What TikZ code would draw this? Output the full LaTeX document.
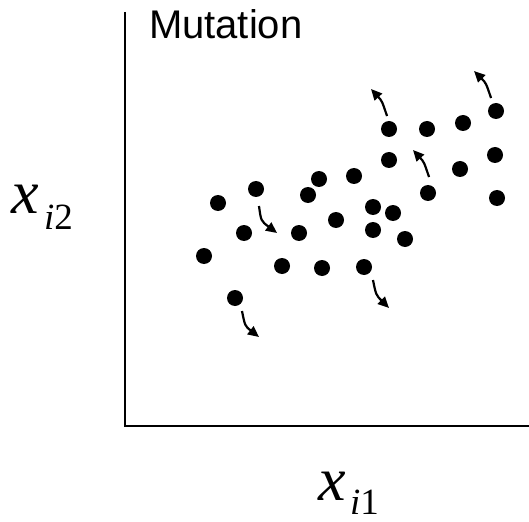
\documentclass[tikz,border=0pt]{standalone}
\usepackage{fontspec}
\setmainfont{Liberation Serif}
\newfontfamily\arialfont{Liberation Sans}
\usetikzlibrary{arrows.meta}
\begin{document}
\begin{tikzpicture}[x=1pt,y=-1pt,
  dot/.style={circle,fill=black,inner sep=0pt,minimum size=16pt},
  axis/.style={line width=2pt},
  mut/.style={line width=2.2pt,-{Triangle[length=11pt,width=10pt]}},
  lbl/.style={inner sep=0pt,outer sep=0pt},
  mainvar/.style={lbl,anchor=base west,font=\fontsize{62}{62}\selectfont\itshape},
  subvar/.style={lbl,anchor=base west,text depth=0pt,font=\fontsize{37}{37}\selectfont}]
\useasboundingbox (0,0) rectangle (529,521);
% axes
\coordinate (top) at (125,12);
\coordinate (orig) at (125,426);
\coordinate (right) at (529,426);
\draw[axis] (top) -- (orig) -- (right);
% title
\node[lbl,anchor=base west] (title) at (149,39) {\arialfont\fontsize{40}{40}\selectfont Mutation};
% axis labels
\node[mainvar] (ylab) at (12,213) {x};
\node[subvar] (ysub) at (44,229) {\itshape i\upshape 2};
\node[mainvar] (xlab) at (318,500) {x};
\node[subvar] (xsub) at (350,514) {\itshape i\upshape 1};
% dots
\foreach \n/\x/\y in {d1/218/203,d2/256/189,d3/204/256,d4/244/233,d5/235/298,
  d6/282/266,d7/299/233,d8/308/195,d9/319/179,d10/322/268,d11/336/220,
  d12/354/176,d13/364/267,d14/373/207,d15/373/230,d16/393/213,d17/405/239,
  d18/389/129,d19/389/160,d20/427/129,d21/428/193,d22/463/123,d23/460/169,
  d24/496/111,d25/495/155,d26/497/198}
  \node[dot] (\n) at (\x,\y) {};
% mutation arrows
\coordinate (a1s) at (259,206); \coordinate (a1e) at (277,233);
\coordinate (a2s) at (242,311); \coordinate (a2e) at (259,337);
\coordinate (a3s) at (373,280); \coordinate (a3e) at (389,308);
\coordinate (a4s) at (387,116); \coordinate (a4e) at (371,89);
\coordinate (a5s) at (429,177); \coordinate (a5e) at (413,150);
\coordinate (a6s) at (491,98);  \coordinate (a6e) at (474,71);
\draw[mut] (a1s) .. controls (261,221) .. (a1e);
\draw[mut] (a2s) .. controls (245,326) .. (a2e);
\draw[mut] (a3s) .. controls (376,295) .. (a3e);
\draw[mut] (a4s) .. controls (382,101) .. (a4e);
\draw[mut] (a5s) .. controls (424,162) .. (a5e);
\draw[mut] (a6s) .. controls (486,83) .. (a6e);
\end{tikzpicture}
\end{document}
